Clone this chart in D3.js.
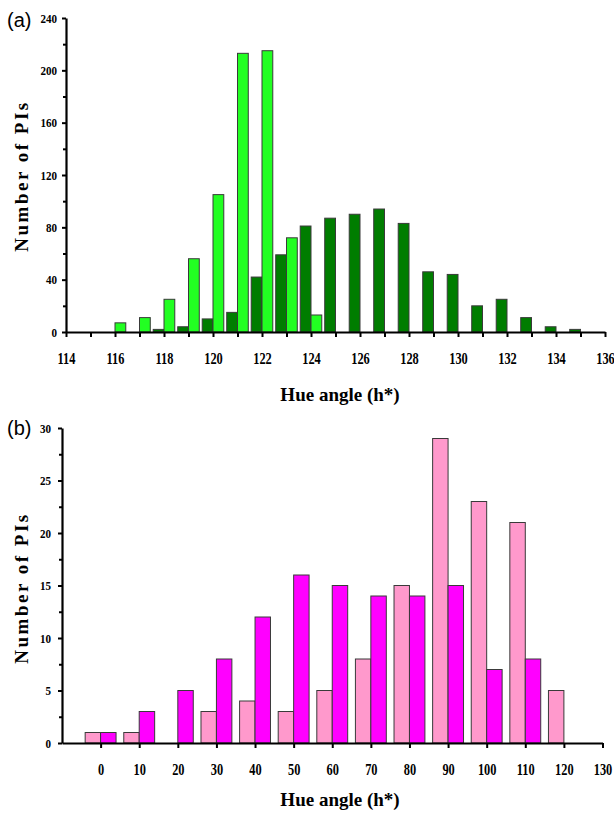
<!DOCTYPE html>
<html><head><meta charset="utf-8">
<script src="https://cdn.jsdelivr.net/npm/d3@7"></script>
<style>
body{margin:0;background:#fff;}
svg{display:block;}
.tick text{font-family:"Liberation Serif","Times New Roman",serif;font-weight:bold;}
</style></head>
<body><svg id="c" width="614" height="820"></svg>
<script>
// Panel (a)
const hueA = [116,117,118,119,120,121,122,123,124,125,126,127,128,129,130,131,132,133,134,135];
const lightGreen = [7,11,25,56,105,213,215,72,13,0,0,0,0,0,0,0,0,0,0,0];
const darkGreen  = [0,0,2,4,10,15,42,59,81,87,90,94,83,46,44,20,25,11,4,2];
const yTicksA = [0,40,80,120,160,200,240];
// Panel (b)
const hueB = [0,10,20,30,40,50,60,70,80,90,100,110,120];
const pink    = [1,1,0,3,4,3,5,8,15,29,23,21,5];
const magenta = [1,3,5,8,12,16,15,14,14,15,7,8,0];
const yTicksB = [0,5,10,15,20,25,30];
const xTicksB = [0,10,20,30,40,50,60,70,80,90,100,110,120,130];

const svg = d3.select("#c");
const serif = '"Liberation Serif","Times New Roman",serif';

function panel(o){
  const g = svg.append("g");
  const x = d3.scaleLinear().domain(o.xDomain).range([o.left,o.right]);
  const y = d3.scaleLinear().domain(o.yDomain).range([o.bottom,o.top]);
  const rows = o.cats.map((c,i)=>({c, a:o.s1[i], b:o.s2[i]}));
  g.selectAll("rect.s1").data(rows.filter(d=>d.a>0)).join("rect")
    .attr("x", d=>x(d.c + o.off1)).attr("width", d=>x(d.c+o.off1+o.bw)-x(d.c+o.off1))
    .attr("y", d=>y(d.a)).attr("height", d=>y(0)-y(d.a))
    .attr("fill", o.c1).attr("stroke","#3a3a3a").attr("stroke-width",1);
  g.selectAll("rect.s2").data(rows.filter(d=>d.b>0)).join("rect")
    .attr("x", d=>x(d.c + o.off2)).attr("width", d=>x(d.c+o.off2+o.bw)-x(d.c+o.off2))
    .attr("y", d=>y(d.b)).attr("height", d=>y(0)-y(d.b))
    .attr("fill", o.c2).attr("stroke","#3a3a3a").attr("stroke-width",1);
  const ya = g.append("g").attr("transform",`translate(${o.left},0)`)
    .call(d3.axisLeft(y).tickValues(o.yMinor).tickSize(3).tickFormat(""));
  ya.select(".domain").remove();
  ya.selectAll("line").attr("stroke","#000").attr("stroke-width",2);
  const yb = g.append("g").attr("transform",`translate(${o.left},0)`)
    .call(d3.axisLeft(y).tickValues(o.yTicks).tickSize(4).tickSizeOuter(0).tickPadding(o.yPad));
  yb.select(".domain").attr("stroke","#000").attr("stroke-width",2.2);
  yb.selectAll("line").attr("stroke","#000").attr("stroke-width",2);
  yb.selectAll("text").attr("font-size",13).attr("fill","#000")
    .attr("transform",function(){const xx=+d3.select(this).attr("x");return `translate(${xx*0.15},0) scale(0.85,1)`;});
  const xa = g.append("g").attr("transform",`translate(0,${o.bottom})`)
    .call(d3.axisBottom(x).tickValues(o.xMinor).tickSize(5).tickFormat(""));
  xa.select(".domain").remove();
  xa.selectAll("line").attr("stroke","#000").attr("stroke-width",2);
  const xb = g.append("g").attr("transform",`translate(0,${o.bottom})`)
    .call(d3.axisBottom(x).tickValues(o.xTicks).tickSize(5).tickSizeOuter(0).tickPadding(o.xPad).tickFormat(d3.format("d")));
  xb.select(".domain").attr("stroke","#000").attr("stroke-width",2.2);
  xb.selectAll("line").attr("stroke","#000").attr("stroke-width",2);
  xb.selectAll("text").attr("font-size",16.5).attr("fill","#000").attr("transform","scale(0.75,1)");
  g.append("text").attr("x",340).attr("y",o.titleY).attr("text-anchor","middle")
    .attr("font-family",serif).attr("font-weight","bold").attr("font-size",19).text("Hue angle (h*)");
  g.append("text").attr("transform",`translate(28,${o.ylabY}) rotate(-90)`).attr("text-anchor","middle")
    .attr("font-family",serif).attr("font-weight","bold").attr("font-size",19)
    .attr("letter-spacing","2.5px").text("Number of PIs");
  g.append("text").attr("x",7).attr("y",o.tagY).attr("font-family",'"Liberation Sans",Arial,sans-serif')
    .attr("font-size",20).text(o.tag);
}

panel({
  cats:hueA, s1:darkGreen, s2:lightGreen, c1:"#007d00", c2:"#22ff22",
  off1:-0.44, off2:0, bw:0.44,
  xDomain:[114,136], yDomain:[0,240], left:66, right:605, top:18, bottom:332,
  yTicks:yTicksA, yMinor:d3.range(20,240,40), yPad:5,
  xTicks:d3.range(114,137,2), xMinor:d3.range(115,136,2), xPad:15,
  titleY:401, ylabY:176, tagY:27, tag:"(a)"
});
panel({
  cats:hueB, s1:pink, s2:magenta, c1:"#ff99cc", c2:"#ff00ff",
  off1:-4, off2:0, bw:4,
  xDomain:[-10,130], yDomain:[0,30], left:62, right:602.5, top:428, bottom:743,
  yTicks:yTicksB, yMinor:d3.range(2.5,30,5), yPad:7,
  xTicks:xTicksB, xMinor:[], xPad:15,
  titleY:806, ylabY:588, tagY:435, tag:"(b)"
});
</script></body></html>
